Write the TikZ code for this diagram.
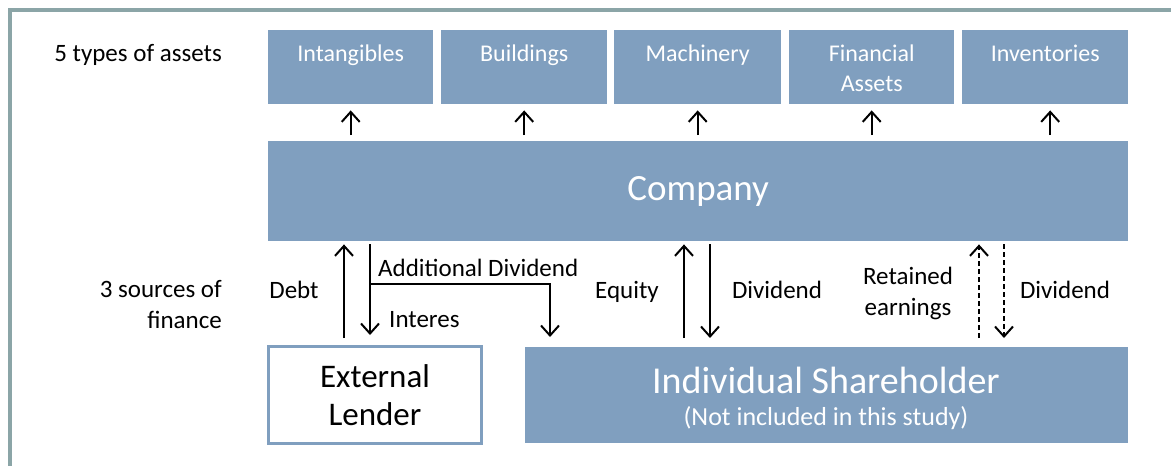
\documentclass[tikz,border=0pt]{standalone}
\usepackage{fontspec}
\setmainfont{Carlito}
\usetikzlibrary{arrows.meta,calc}
\definecolor{boxblue}{RGB}{128,159,191}
\definecolor{framec}{RGB}{139,165,167}
\begin{document}
\begin{tikzpicture}[x=1pt,y=-1pt,
  abox/.style={fill=boxblue, draw=none, minimum width=#1, minimum height=74, inner sep=0, anchor=north west},
  atext/.style={text=white, font=\fontsize{24}{30}\selectfont, align=center, inner sep=0},
  lbl/.style={text=black, font=\fontsize{25}{31}\selectfont, inner sep=0},
  arr/.style={line width=2pt, -{Straight Barb[length=10pt,width=18pt,line width=2pt]}},
  dsh/.style={arr, dash pattern=on 5pt off 3pt},
]
\useasboundingbox (0,0) rectangle (1171,466);
\fill[white] (0,0) rectangle (1171,466);
\draw[framec, line width=4pt] (10,468) -- (10,10) -- (1173,10);

% asset boxes
\node[abox=165] (int) at (268,30) {};
\node[abox=166] (bld) at (441,30) {};
\node[abox=167] (mac) at (614,30) {};
\node[abox=165] (fin) at (789,30) {};
\node[abox=166] (inv) at (962,30) {};
\node[atext, anchor=base] at ($(int.north)+(0,31)$) {Intangibles};
\node[atext, anchor=base] at ($(bld.north)+(0,31)$) {Buildings};
\node[atext, anchor=base] at ($(mac.north)+(0,31)$) {Machinery};
\node[atext, anchor=north] at ($(fin.north)+(0,15)$) {Financial\\Assets};
\node[atext, anchor=base] at ($(inv.north)+(0,31)$) {Inventories};

% company
\node[fill=boxblue, minimum width=860, minimum height=100, inner sep=0, anchor=north west,
      text=white, font=\fontsize{37}{44}\selectfont] (comp) at (268,141) {Company};

% lender and shareholder
\node[fill=white, draw=boxblue, line width=3pt, minimum width=213, minimum height=97, inner sep=0] (lend) at (375,395) {};
\node[fill=boxblue, minimum width=603, minimum height=96, inner sep=0, anchor=north west] (share) at (525,347) {};
\node[font=\fontsize{33}{38}\selectfont, align=center, inner sep=0] at (lend.center) {External\\Lender};
\node[text=white, font=\fontsize{38}{44}\selectfont, anchor=base, inner sep=0] at (826,393) {Individual Shareholder};
\node[text=white, font=\fontsize{26}{30}\selectfont, anchor=base, inner sep=0] at (826,425) {(Not included in this study)};

% side labels
\node[lbl, anchor=base east] at (222,61) {5 types of assets};
\node[lbl, anchor=east, align=right] at (222,305) {3 sources of\\finance};

% asset arrows
\foreach \b in {int,bld,mac,fin} {
  \draw[arr, shorten <=6pt, shorten >=6pt] (comp.north -| \b.south) -- (\b.south);
}
\draw[arr, shorten <=6pt, shorten >=6pt] ($(comp.north -| inv.south)+(5,0)$) -- ($(inv.south)+(5,0)$);

% finance arrows
\coordinate (xd) at (344,0);
\coordinate (xi) at (370,0);
\coordinate (br) at (370,284);
\coordinate (xb) at (550,0);
\coordinate (xe) at (684,0);
\coordinate (xv) at (710,0);
\coordinate (xr) at (979,0);
\coordinate (xw) at (1004,0);

\draw[arr, shorten <=7pt, shorten >=3pt] (lend.north -| xd) -- (comp.south -| xd);
\draw[arr, shorten <=3pt, shorten >=10pt] (comp.south -| xi) -- (lend.north -| xi);
\draw[arr, shorten >=10pt] (br) -| (share.north -| xb);
\draw[arr, shorten <=9pt, shorten >=3pt] (share.north -| xe) -- (comp.south -| xe);
\draw[arr, shorten <=3pt, shorten >=9pt] (comp.south -| xv) -- (share.north -| xv);
\draw[dsh, shorten <=9pt, shorten >=3pt] (share.north -| xr) -- (comp.south -| xr);
\draw[dsh, shorten <=3pt, shorten >=9pt] (comp.south -| xw) -- (share.north -| xw);

% arrow labels
\node[lbl, anchor=base] at (294,298) {Debt};
\node[lbl, anchor=base west] at (378,276) {Additional Dividend};
\node[lbl, anchor=base west] at (389,327) {Interes};
\node[lbl, anchor=base] at (627,298) {Equity};
\node[lbl, anchor=base] at (777,298) {Dividend};
\node[lbl, align=center] at (908,293) {Retained\\earnings};
\node[lbl, anchor=base] at (1065,298) {Dividend};
\end{tikzpicture}
\end{document}
